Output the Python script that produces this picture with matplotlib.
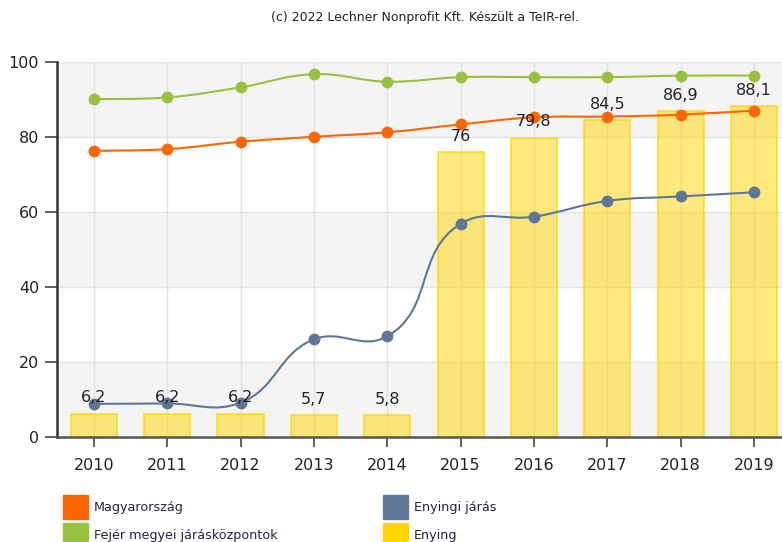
import numpy as np
import matplotlib
matplotlib.use("Agg")
import matplotlib.pyplot as plt
from matplotlib.path import Path
from matplotlib.patches import PathPatch, Rectangle

years = ["2010", "2011", "2012", "2013", "2014", "2015", "2016", "2017", "2018", "2019"]
enying = [6.2, 6.2, 6.2, 5.7, 5.8, 76, 79.8, 84.5, 86.9, 88.1]
magyarorszag = [76.3, 76.7, 78.7, 80.0, 81.2, 83.3, 85.2, 85.4, 85.9, 87.0]
fejer = [90.1, 90.5, 93.2, 96.7, 94.7, 95.9, 95.9, 95.9, 96.3, 96.3]
enyingi_jaras = [8.8, 8.9, 9.1, 26.0, 26.8, 56.8, 58.7, 62.9, 64.1, 65.2]

C_ORANGE = "#ff6600"
C_GREEN = "#99c140"
C_BLUE = "#5f7797"
C_YELLOW = "#ffd500"

fig = plt.figure(figsize=(7.82, 5.42), dpi=100)
ax = fig.add_axes([0.073, 0.194, 0.927, 0.692])
ax.set_xlim(-0.5, 9.38)
ax.set_ylim(0, 100)

# pixel scale, so the spline control points behave like on screen
SX = 73.3
SY = 3.75


def spline_path(xs, ys, smoothing=1.5):
    px = np.asarray(xs, float) * SX
    py = -np.asarray(ys, float) * SY
    n = len(px)
    lc = [(px[i], py[i]) for i in range(n)]
    rc = [(px[i], py[i]) for i in range(n)]
    denom = smoothing + 1
    for i in range(1, n - 1):
        x, y = px[i], py[i]
        lx = (smoothing * x + px[i - 1]) / denom
        ly = (smoothing * y + py[i - 1]) / denom
        rx = (smoothing * x + px[i + 1]) / denom
        ry = (smoothing * y + py[i + 1]) / denom
        dl = np.hypot(lx - x, ly - y)
        dr = np.hypot(rx - x, ry - y)
        la = np.arctan2(ly - y, lx - x)
        ra = np.arctan2(ry - y, rx - x)
        ja = np.pi / 2 + (la + ra) / 2
        if abs(la - ja) > np.pi / 2:
            ja -= np.pi
        lc[i] = (x + np.cos(ja) * dl, y + np.sin(ja) * dl)
        rc[i] = (x + np.cos(np.pi + ja) * dr, y + np.sin(np.pi + ja) * dr)
    verts = [(px[0], py[0])]
    codes = [Path.MOVETO]
    for i in range(n - 1):
        verts += [rc[i], lc[i + 1], (px[i + 1], py[i + 1])]
        codes += [Path.CURVE4] * 3
    verts = [(vx / SX, -vy / SY) for vx, vy in verts]
    return Path(verts, codes)


# alternating horizontal bands
for k, lo in enumerate(range(0, 100, 20)):
    if k % 2 == 0:
        ax.axhspan(lo, lo + 20, color="#f4f4f4", zorder=0, lw=0)
for yv in range(20, 101, 20):
    ax.axhline(yv, color="#e4e4e4", lw=1, zorder=0.5)
x = np.arange(len(years))
for xv in x:
    ax.axvline(xv, color="#e2e2e2", lw=1, zorder=0.5)

ax.bar(x, enying, width=0.63, color=C_YELLOW, alpha=0.5, zorder=1, lw=0)
ax.bar(x, enying, width=0.63, facecolor="none", edgecolor=C_YELLOW, lw=1.2, alpha=0.8, zorder=1.1)
for xi, v in zip(x, enying):
    ax.text(xi, v + 2.2, f"{v:g}".replace(".", ","), ha="center", va="bottom",
            fontsize=11.5, color="#222222", zorder=6)

for vals, col in [(enyingi_jaras, C_BLUE), (magyarorszag, C_ORANGE), (fejer, C_GREEN)]:
    ax.add_patch(PathPatch(spline_path(x, vals), facecolor="none", edgecolor=col, lw=1.5, zorder=3))
    ax.plot(x, vals, "o", color=col, markersize=8.5, zorder=4, markeredgewidth=0)

ax.set_xticks(x)
ax.set_xticklabels(years)
ax.set_yticks(range(0, 101, 20))
ax.tick_params(axis="x", length=7, width=1.2, color="#444444", labelsize=11.5, pad=8, labelcolor="#222222")
ax.tick_params(axis="y", length=9, width=1.2, color="#444444", labelsize=11.5, pad=4, labelcolor="#222222")
for s in ["top", "right"]:
    ax.spines[s].set_visible(False)
ax.spines["left"].set_color("#333333")
ax.spines["left"].set_linewidth(1.8)
ax.spines["bottom"].set_color("#555555")
ax.spines["bottom"].set_linewidth(1.8)

fig.text(0.544, 0.967, "(c) 2022 Lechner Nonprofit Kft. Készült a TeIR-rel.",
         ha="center", va="center", fontsize=9, color="#222222")

# legend boxes
legend_items = [("Magyarország", C_ORANGE, 63, 495), ("Enyingi járás", C_BLUE, 383, 495),
                ("Fejér megyei járásközpontok", C_GREEN, 63, 523), ("Enying", C_YELLOW, 383, 523)]
W, H = 782, 542
for label, col, lx, ly in legend_items:
    fig.patches.append(Rectangle((lx / W, 1 - (ly + 24) / H), 25 / W, 24 / H,
                                 transform=fig.transFigure, color=col, figure=fig))
    fig.text((lx + 31) / W, 1 - (ly + 13) / H, label, ha="left", va="center",
             fontsize=9.2, color="#222244")

fig.savefig("out.png", dpi=100)
